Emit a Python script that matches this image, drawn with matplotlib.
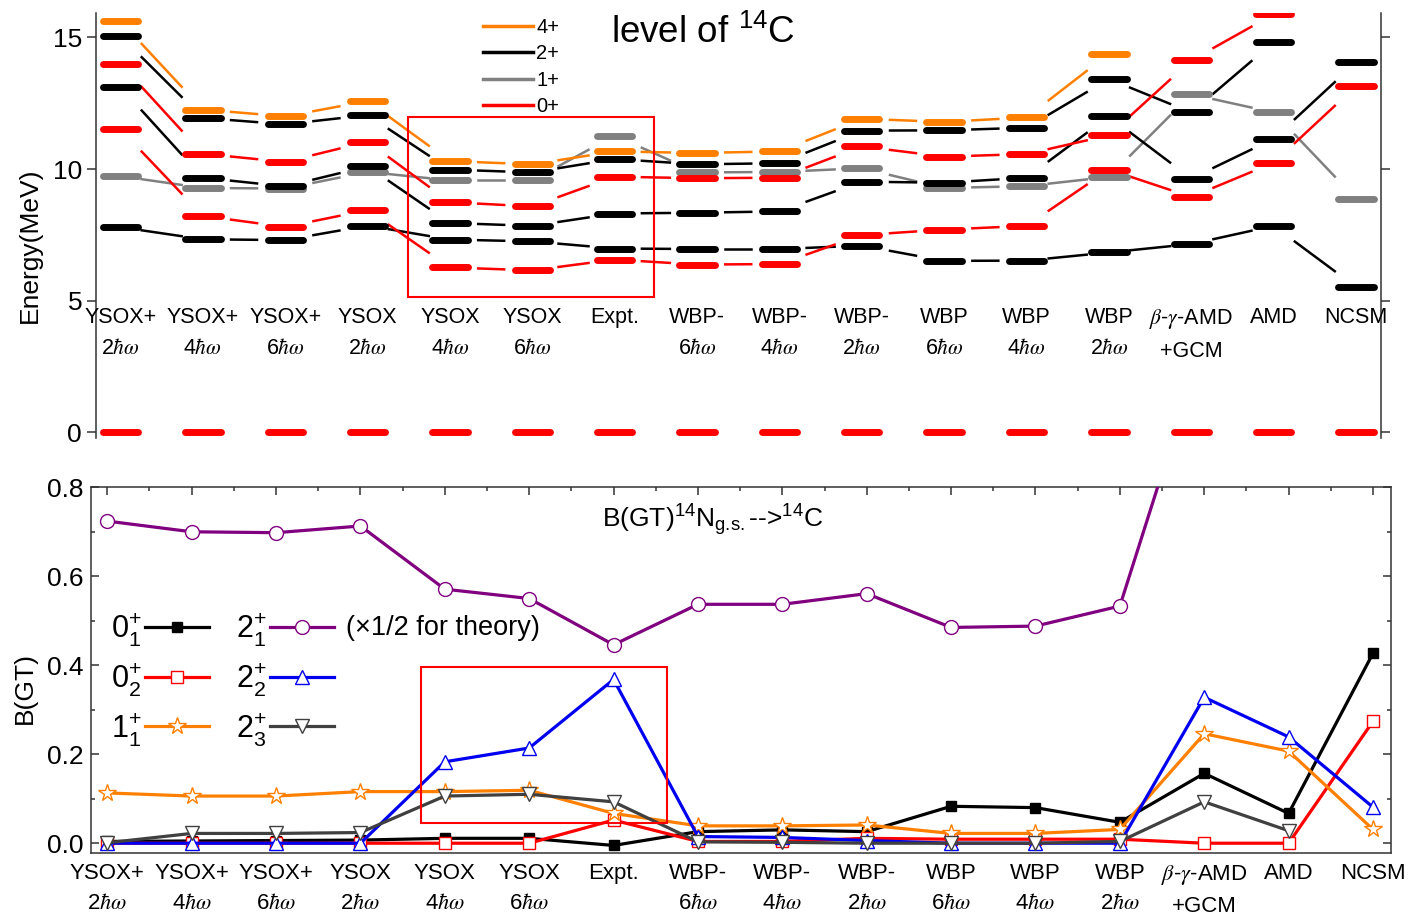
import numpy as np
import matplotlib
matplotlib.use("Agg")
import matplotlib.pyplot as plt
from matplotlib.lines import Line2D
from matplotlib.patches import Rectangle
from matplotlib.ticker import FormatStrFormatter, MultipleLocator

plt.rcParams["font.family"] = ["Liberation Sans", "DejaVu Sans"]
plt.rcParams["mathtext.fontset"] = "custom"
plt.rcParams["mathtext.rm"] = "Liberation Sans"
plt.rcParams["mathtext.it"] = "Liberation Sans:italic"
plt.rcParams["mathtext.bf"] = "Liberation Sans:bold"

nan = np.nan

# -- Categories (same for both panels) -----------------------------------------
HW = r"$\hbar\omega$"
categories = ["YSOX+\n2" + HW, "YSOX+\n4" + HW, "YSOX+\n6" + HW, "YSOX\n2" + HW,
              "YSOX\n4" + HW, "YSOX\n6" + HW, "Expt.", "WBP-\n6" + HW,
              "WBP-\n4" + HW, "WBP-\n2" + HW, "WBP\n6" + HW, "WBP\n4" + HW,
              "WBP\n2" + HW, r"$\beta$-$\gamma$-AMD" + "\n+GCM", "AMD", "NCSM"]

# -- Top panel: level energies of 14C (MeV) ------------------------------------
lev_4p   = [15.62, 12.26, 12.00, 12.58, 10.30, 10.18, 10.67, 10.61, 10.67, 11.91, 11.79, 11.96, 14.38, nan, nan, nan]
lev_2p_1 = [7.79, 7.33, 7.30, 7.85, 7.32, 7.25, 6.98, 6.96, 6.96, 7.09, 6.51, 6.52, 6.83, 7.15, 7.84, 5.52]
lev_2p_2 = [13.11, 9.67, 9.34, 10.10, 7.95, 7.84, 8.31, 8.34, 8.39, 9.52, 9.48, 9.67, 12.00, 9.64, 11.15, 14.05]
lev_2p_3 = [15.05, 11.94, 11.70, 12.05, 9.98, 9.87, 10.38, 10.18, 10.22, 11.46, 11.47, 11.57, 13.42, 12.15, 14.82, nan]
lev_1p   = [9.73, 9.28, 9.26, 9.89, 9.57, 9.57, 11.27, 9.87, 9.89, 10.03, 9.28, 9.35, 9.70, 12.84, 12.15, 8.87]
lev_0p_1 = [0.0] * 16
lev_0p_2 = [11.51, 8.22, 7.80, 8.44, 6.26, 6.15, 6.56, 6.37, 6.39, 7.49, 7.70, 7.84, 9.98, 8.94, 10.24, 13.15]
lev_0p_3 = [14.00, 10.58, 10.27, 11.04, 8.74, 8.58, 9.71, 9.65, 9.67, 10.86, 10.47, 10.57, 11.28, 14.13, 15.88, nan]

# gap (px) between level bar end and connector, per interval
conn_gap_px = [0, 7, 7, 0, 7, 5, 6, 7, 6, 7, 7, 1, 0, 1, 0]

# -- Bottom panel: B(GT) 14N g.s. -> 14C --------------------------------------
bgt_0p_1 = [0.004, 0.005, 0.006, 0.007, 0.011, 0.011, -0.005, 0.026, 0.030, 0.026, 0.083, 0.080, 0.047, 0.157, 0.067, 0.427]
bgt_0p_2 = [0.0, 0.0, 0.0, 0.0, 0.0, 0.0, 0.052, 0.004, 0.004, 0.011, 0.009, 0.009, 0.009, 0.0, 0.0, 0.274]
bgt_1p_1 = [0.113, 0.106, 0.106, 0.116, 0.116, 0.119, 0.067, 0.039, 0.039, 0.041, 0.022, 0.022, 0.031, 0.246, 0.207, 0.031]
bgt_2p_1 = [0.724, 0.700, 0.698, 0.713, 0.571, 0.550, 0.446, 0.537, 0.537, 0.561, 0.485, 0.488, 0.533, 1.13, nan, nan]
bgt_2p_2 = [0.0, 0.0, 0.0, 0.0, 0.183, 0.214, 0.368, 0.015, 0.013, 0.006, 0.0, 0.0, 0.0, 0.328, 0.239, 0.081]
bgt_2p_3 = [0.001, 0.022, 0.022, 0.024, 0.106, 0.110, 0.093, 0.003, 0.002, 0.0, 0.0, 0.0, 0.004, 0.093, 0.028, nan]

ORANGE = "#FF8000"
GRAY = "#808080"
RED = "#FF0000"
BLACK = "#000000"
PURPLE = "#800080"
BLUE = "#0000F0"
DGRAY = "#404040"

x = np.arange(1, len(categories) + 1)

fig = plt.figure(figsize=(14.13, 9.16), dpi=100)
W, H = 1413, 916

# ============================ Top panel =======================================
ax = fig.add_axes([96 / W, 1 - 438 / H, (1380.7 - 96) / W, (438 - 12.7) / H])
PX = 82.37                      # pixels per category
BAR = 21.2 / PX                 # visible half width of a level bar
BAR_DATA = BAR - 3.5 / PX       # minus round cap

top_states = [
    (lev_1p, GRAY), (lev_4p, ORANGE), (lev_2p_3, BLACK), (lev_2p_2, BLACK),
    (lev_2p_1, BLACK), (lev_0p_3, RED), (lev_0p_2, RED), (lev_0p_1, RED),
]
for vals, color in top_states:
    vals = np.asarray(vals, dtype=float)
    for xi, v in zip(x, vals):
        if np.isfinite(v):
            ax.plot([xi - BAR_DATA, xi + BAR_DATA], [v, v], color=color, lw=5,
                    solid_capstyle="round", zorder=3)
    for i in range(len(x) - 1):
        v0, v1 = vals[i], vals[i + 1]
        if not (np.isfinite(v0) and np.isfinite(v1)) or (v0 == 0 and v1 == 0):
            continue
        g = conn_gap_px[i] / PX
        x0, x1 = x[i] + BAR + g, x[i + 1] - BAR - g
        slope = (v1 - v0) / (x[i + 1] - x[i])
        ax.plot([x0, x1], [v0 + slope * (x0 - x[i]), v0 + slope * (x1 - x[i])],
                color=color, lw=1.8, zorder=2)

for xi, lab in zip(x, categories):
    t = ax.text(xi, 4.75, lab, ha="center", va="top", fontsize=15.5, linespacing=1.6)
    t.set_math_fontfamily("stix")

ax.set_xlim(1 - (120.5 - 96) / PX, 16 + (1380.7 - 1356) / PX)
ax.set_ylim(-0.22, 15.94)
ax.set_xticks([])
ax.set_yticks([0, 5, 10, 15])
ax.spines["top"].set_visible(False)
ax.spines["bottom"].set_visible(False)
for s in ("left", "right"):
    ax.spines[s].set_linewidth(1.1)
    ax.spines[s].set_color("#333333")
ax.tick_params(axis="y", which="major", left=True, right=True, direction="out",
               length=6.5, width=1.1, color="#333333", labelsize=19, pad=3.5)
fig.text(30 / W, 1 - 245 / H, "Energy(MeV)", rotation=90, ha="center", va="center", fontsize=19)

ax.text((703 - 96) / (1380.7 - 96), (438 - 33) / (438 - 12.7), r"level of $^{14}$C",
        transform=ax.transAxes, ha="center", va="center", fontsize=26.5)

leg_handles = [Line2D([], [], color=c, lw=2.5) for c in (ORANGE, BLACK, GRAY, RED)]
ax.legend(leg_handles, ["4+", "2+", "1+", "0+"], loc="upper left",
          bbox_to_anchor=((483 - 96) / (1380.7 - 96), (438 - 18) / (438 - 12.7)),
          frameon=False, fontsize=14.5, handlelength=2.5, handletextpad=0.15,
          labelspacing=0.37, borderpad=0, borderaxespad=0)

ax.add_patch(Rectangle((4.49, 5.14), 7.477 - 4.49, 11.97 - 5.14, fill=False,
                       edgecolor=RED, lw=1.5, zorder=5))

# ============================ Bottom panel ====================================
ax2 = fig.add_axes([90.7 / W, 1 - 853 / H, (1391 - 90.7) / W, (853 - 487.3) / H])

series = [
    (bgt_0p_1, BLACK, "s", BLACK, 7, r"$0^{+}_{1}$"),
    (bgt_0p_2, RED, "s", "white", 9, r"$0^{+}_{2}$"),
    (bgt_1p_1, ORANGE, "*", "white", 13, r"$1^{+}_{1}$"),
    (bgt_2p_1, PURPLE, "o", "white", 10, r"$2^{+}_{1}$"),
    (bgt_2p_2, BLUE, "^", "white", 10, r"$2^{+}_{2}$"),
    (bgt_2p_3, DGRAY, "v", "white", 10, r"$2^{+}_{3}$"),
]
draw_order = [1, 0, 2, 5, 4, 3]
handles = {}
for k in draw_order:
    vals, color, mk, face, ms, lab = series[k]
    h, = ax2.plot(x, vals, color=color, lw=2.3, marker=mk, markersize=ms,
                  markerfacecolor=face, markeredgecolor=color, markeredgewidth=1.0,
                  label=lab, zorder=3 + k * 0.1)
    handles[k] = h

ax2.legend([handles[k] for k in range(6)], [s[5] for s in series], ncol=2,
           loc="upper left", bbox_to_anchor=((111 - 90.7) / 1300.3, (853 - 611) / 365.7),
           markerfirst=False, frameon=False, fontsize=22, handlelength=2.1,
           handletextpad=0.1, columnspacing=0.9, labelspacing=0.42,
           borderpad=0, borderaxespad=0)
ax2.text((346 - 90.7) / 1300.3, (853 - 628) / 365.7, "(\u00d71/2 for theory)",
         transform=ax2.transAxes, ha="left", va="center", fontsize=19.5)
ax2.text((712.5 - 90.7) / 1300.3, (853 - 520) / 365.7,
         r"B(GT)$^{14}$N$_{\mathrm{g.\!s.}}$-->$^{14}$C", transform=ax2.transAxes,
         ha="center", va="center", fontsize=19)

ax2.add_patch(Rectangle((4.718, 0.045), 7.633 - 4.718, 0.395 - 0.045, fill=False,
                        edgecolor=RED, lw=1.5, zorder=6))

PX2 = (1373 - 107.3) / 15
ax2.set_xlim(1 - (107.3 - 90.7) / PX2, 16 + (1391 - 1373) / PX2)
ax2.set_ylim(-0.022, 0.8)
ax2.set_xticks(x)
ax2.set_xticklabels(categories, fontsize=16, linespacing=1.6)
for t in ax2.get_xticklabels():
    t.set_math_fontfamily("stix")
ax2.xaxis.set_minor_locator(MultipleLocator(0.5))
ax2.tick_params(axis="x", which="both", bottom=False, top=True, direction="in",
                width=1.1, color="#333333", pad=7)
ax2.tick_params(axis="x", which="major", length=5.8)
ax2.tick_params(axis="x", which="minor", length=2.9)
ax2.set_yticks(np.arange(0, 0.81, 0.2))
ax2.yaxis.set_major_formatter(FormatStrFormatter("%.1f"))
ax2.yaxis.set_minor_locator(MultipleLocator(0.1))
ax2.tick_params(axis="y", which="both", left=True, right=True, direction="in",
                width=1.1, color="#333333", labelsize=19, pad=5)
ax2.tick_params(axis="y", which="major", length=5.8)
ax2.tick_params(axis="y", which="minor", length=2.9)
for s in ax2.spines.values():
    s.set_linewidth(1.1)
    s.set_color("#333333")
fig.text(25 / W, 1 - 688 / H, "B(GT)", rotation=90, ha="center", va="center", fontsize=19)

fig.savefig("out.png", dpi=100)
